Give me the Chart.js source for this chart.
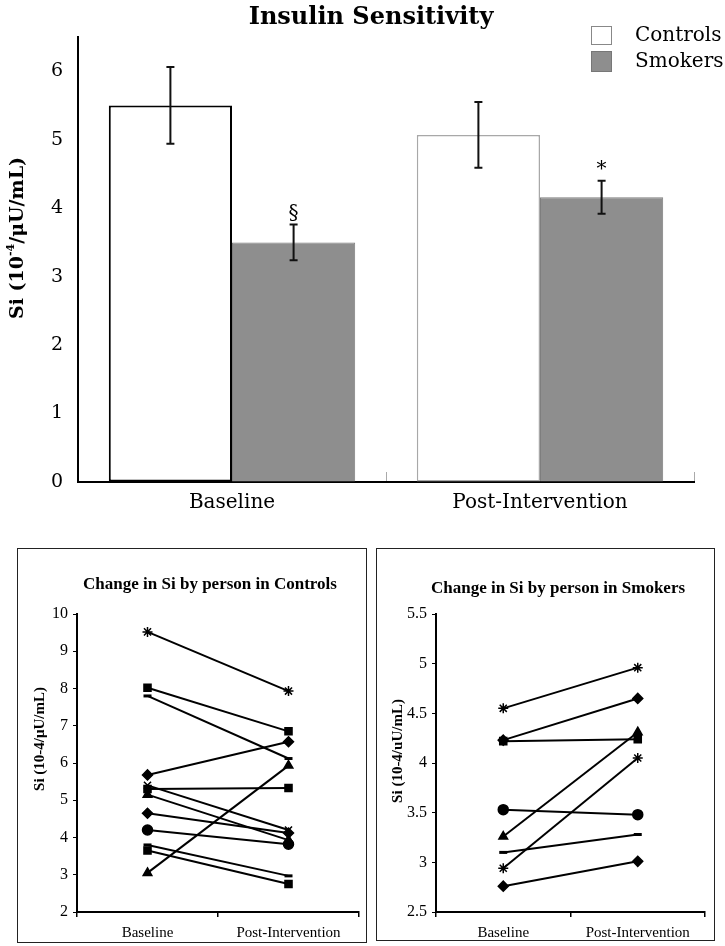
<!DOCTYPE html>
<html>
<head>
<meta charset="utf-8">
<script src="https://cdn.jsdelivr.net/npm/chart.js@4"></script>
<style>
  body { margin: 0; background: #fff; }
  .abs { position: absolute; }
  .box { position: absolute; border: 1px solid #222; box-sizing: border-box; }
</style>
</head>
<body>
<canvas id="top" class="abs" width="725" height="520" style="left:0;top:0"></canvas>
<div class="box" style="left:17px;top:548px;width:350px;height:395px"></div>
<canvas id="ctl" class="abs" width="348" height="393" style="left:18px;top:549px"></canvas>
<div class="box" style="left:376px;top:548px;width:339px;height:393px"></div>
<canvas id="smk" class="abs" width="337" height="391" style="left:377px;top:549px"></canvas>
<script>
// Данные верхнего графика (среднее и ошибка)
const groups = ["Baseline", "Post-Intervention"];
const controlsMean = [5.5, 5.07];
const controlsErr = [0.56, 0.48];
const smokersMean = [3.5, 4.16];
const smokersErr = [0.26, 0.24];
const smokersMarks = ["§", "*"];

// Данные по каждому человеку
const timepoints = ["Baseline", "Post-Intervention"];
const controlsBase = [9.52, 8.02, 7.8, 5.68, 5.3, 5.4, 5.15, 4.65, 4.2, 3.8, 3.65, 3.05];
const controlsPost = [7.93, 6.85, 6.12, 6.57, 5.33, 4.2, 3.93, 4.12, 3.82, 2.97, 2.75, 5.93];
const controlsMarker = ["star", "rect", "line", "rectRot", "rect", "crossRot", "triangle", "rectRot", "circle", "line", "rect", "triangle"];
const smokersBase = [4.55, 4.23, 4.22, 3.26, 2.94, 3.53, 3.1, 2.76];
const smokersPost = [4.96, 4.65, 4.24, 4.31, 4.05, 3.48, 3.28, 3.01];
const smokersMarker = ["star", "rectRot", "rect", "triangle", "star", "circle", "line", "rectRot"];

Chart.defaults.color = "#000";
Chart.defaults.font.family = "DejaVu Serif";
Chart.defaults.animation = false;

// Подписи поверх графика
const makeNotes = (items) => ({
  id: "notes",
  afterDraw(chart) {
    const ctx = chart.ctx;
    items.forEach((item) => {
      ctx.save();
      ctx.translate(item.x, item.y);
      if (item.rotate) ctx.rotate(item.rotate);
      ctx.fillStyle = "#000";
      ctx.textBaseline = item.baseline || "middle";
      ctx.textAlign = "left";
      const parts = item.parts || [{ text: item.text, font: item.font }];
      let total = 0;
      parts.forEach((p) => {
        ctx.font = p.font;
        p.w = ctx.measureText(p.text).width;
        total += p.w;
      });
      let x = item.align === "left" ? 0 : -total / 2;
      parts.forEach((p) => {
        ctx.font = p.font;
        ctx.fillText(p.text, x, p.dy || 0);
        x += p.w;
      });
      ctx.restore();
    });
  },
});

// Планки погрешностей и значки значимости
const errorBars = {
  id: "errorBars",
  afterDatasetsDraw(chart) {
    const ctx = chart.ctx;
    const y = chart.scales.y;
    [controlsErr, smokersErr].forEach((errs, di) => {
      const meta = chart.getDatasetMeta(di);
      meta.data.forEach((bar, i) => {
        const v = chart.data.datasets[di].data[i];
        const top = y.getPixelForValue(v + errs[i]);
        const bot = y.getPixelForValue(v - errs[i]);
        ctx.save();
        ctx.strokeStyle = "#111";
        ctx.lineWidth = 2;
        ctx.beginPath();
        ctx.moveTo(bar.x, top);
        ctx.lineTo(bar.x, bot);
        ctx.moveTo(bar.x - 4, top);
        ctx.lineTo(bar.x + 4, top);
        ctx.moveTo(bar.x - 4, bot);
        ctx.lineTo(bar.x + 4, bot);
        ctx.stroke();
        if (di === 1) {
          ctx.fillStyle = "#000";
          ctx.font = "20px 'DejaVu Serif'";
          ctx.textAlign = "center";
          ctx.textBaseline = "alphabetic";
          ctx.fillText(smokersMarks[i], bar.x, top - 6);
        }
        ctx.restore();
      });
    });
  },
};

// Легенда
const legendBoxes = {
  id: "legendBoxes",
  afterDraw(chart) {
    const ctx = chart.ctx;
    ctx.save();
    ctx.fillStyle = "#fff";
    ctx.strokeStyle = "#888";
    ctx.lineWidth = 1;
    ctx.fillRect(591, 26, 21, 19);
    ctx.strokeRect(591.5, 26.5, 20, 18);
    ctx.fillStyle = "#8e8e8e";
    ctx.fillRect(591, 51, 21, 21);
    ctx.strokeStyle = "#777";
    ctx.strokeRect(591.5, 51.5, 20, 20);
    ctx.restore();
  },
};

new Chart(document.getElementById("top"), {
  type: "bar",
  data: {
    labels: groups,
    datasets: [
      {
        label: "Controls",
        data: controlsMean,
        backgroundColor: "#fff",
        borderColor: ["#000", "#a8a8a8"],
        borderWidth: [2, 1.5],
        borderSkipped: false,
      },
      {
        label: "Smokers",
        data: smokersMean,
        backgroundColor: "#8e8e8e",
        borderColor: "#7e7e7e",
        borderWidth: 1,
      },
    ],
  },
  options: {
    responsive: false,
    layout: { padding: { top: 37, right: 31, left: 0, bottom: 0 } },
    datasets: { bar: { categoryPercentage: 0.8, barPercentage: 1 } },
    scales: {
      y: {
        min: 0,
        max: 6.5,
        ticks: { stepSize: 1, includeBounds: false, padding: 15, font: { size: 19 } },
        grid: { drawOnChartArea: false, drawTicks: false },
        border: { color: "#000", width: 2 },
        afterFit: (s) => { s.width = 78; },
      },
      x: {
        ticks: { padding: 19, font: { size: 20 } },
        grid: { drawOnChartArea: false, tickLength: -10, color: "#aaa" },
        border: { color: "#000", width: 2 },
        afterFit: (s) => { s.height = 38; },
      },
    },
    plugins: { legend: { display: false }, tooltip: { enabled: false } },
  },
  plugins: [
    errorBars,
    legendBoxes,
    makeNotes([
      { text: "Insulin Sensitivity", font: "bold 24px 'DejaVu Serif'", x: 371, y: 24, baseline: "alphabetic" },
      { text: "Controls", font: "20px 'DejaVu Serif'", x: 635, y: 36, align: "left" },
      { text: "Smokers", font: "20px 'DejaVu Serif'", x: 635, y: 62, align: "left" },
      {
        x: 18, y: 238, rotate: -Math.PI / 2,
        parts: [
          { text: "Si (10", font: "bold 19px 'DejaVu Serif'" },
          { text: "-4", font: "bold 11px 'DejaVu Serif'", dy: -7 },
          { text: "/μU/mL)", font: "bold 19px 'DejaVu Serif'" },
        ],
      },
    ]),
  ],
});

// Линии по каждому человеку
const personDatasets = (base, post, markers) =>
  base.map((b, i) => ({
    data: [b, post[i]],
    borderColor: "#000",
    backgroundColor: "#000",
    borderWidth: 2,
    pointStyle: markers[i],
    pointRadius: markers[i] === "line" ? 4 : 5,
    pointBorderWidth: markers[i] === "line" ? 3 : 1.5,
    pointBackgroundColor: "#000",
    pointBorderColor: "#000",
  }));

const lineOptions = (min, max, step, padRight, xHeight) => ({
  responsive: false,
  layout: { padding: { top: 65, right: padRight, left: 0, bottom: 0 } },
  scales: {
    y: {
      min, max,
      ticks: { stepSize: step, padding: 5, font: { family: "Liberation Serif", size: 16 }, callback: (v) => String(v) },
      grid: { drawOnChartArea: false, tickLength: 4, color: "#000" },
      border: { color: "#000", width: 2 },
      afterFit: (s) => { s.width = 59; },
    },
    x: {
      offset: true,
      ticks: { padding: 7, font: { family: "Liberation Serif", size: 15 } },
      grid: { drawOnChartArea: false, offset: true, tickLength: 5, color: "#000", lineWidth: 1.5 },
      border: { color: "#000", width: 2 },
      afterFit: (s) => { s.height = xHeight; },
    },
  },
  plugins: { legend: { display: false }, tooltip: { enabled: false } },
});

new Chart(document.getElementById("ctl"), {
  type: "line",
  data: { labels: timepoints, datasets: personDatasets(controlsBase, controlsPost, controlsMarker) },
  options: lineOptions(2, 10, 1, 7, 30),
  plugins: [
    makeNotes([
      { text: "Change in Si by person in Controls", font: "bold 17px 'Liberation Serif'", x: 192, y: 36 },
      { text: "Si (10-4/μU/mL)", font: "bold 15px 'Liberation Serif'", x: 22, y: 190, rotate: -Math.PI / 2 },
    ]),
  ],
});

new Chart(document.getElementById("smk"), {
  type: "line",
  data: { labels: timepoints, datasets: personDatasets(smokersBase, smokersPost, smokersMarker) },
  options: lineOptions(2.5, 5.5, 0.5, 9, 28),
  plugins: [
    makeNotes([
      { text: "Change in Si by person in Smokers", font: "bold 17px 'Liberation Serif'", x: 181, y: 40 },
      { text: "Si (10-4/uU/mL)", font: "bold 15px 'Liberation Serif'", x: 21, y: 202, rotate: -Math.PI / 2 },
    ]),
  ],
});
</script>
</body>
</html>
